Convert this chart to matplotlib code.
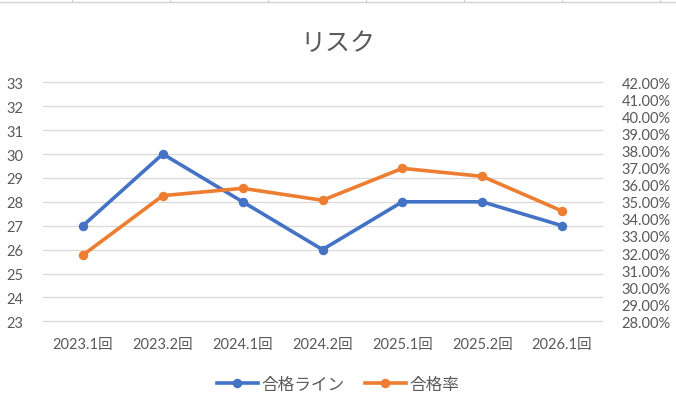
import matplotlib
matplotlib.use("Agg")
import matplotlib.pyplot as plt
from matplotlib.lines import Line2D
from matplotlib.ticker import FuncFormatter, MultipleLocator

categories = ["2023.1回", "2023.2回", "2024.1回", "2024.2回", "2025.1回", "2025.2回", "2026.1回"]
pass_line = [27, 30, 28, 26, 28, 28, 27]
pass_rate = [31.88, 35.36, 35.79, 35.09, 36.96, 36.49, 34.46]
series_names = ["合格ライン", "合格率"]
title = "リスク"

FAM = ["Lato", "Noto Sans CJK JP", "DejaVu Sans"]
plt.rcParams["font.family"] = FAM
GREY = "#595959"
BLUE = "#4472C4"
ORANGE = "#ED7D31"

fig = plt.figure(figsize=(6.76, 4.14), dpi=100)
ax = fig.add_axes([43/676, 1-322.3/414, (602-43)/676, (322.3-83.3)/414])
ax2 = ax.twinx()

x = list(range(len(categories)))
ax.plot(x, pass_line, color=BLUE, lw=2.6, marker="o", ms=5.8, zorder=3, solid_capstyle="round")
ax2.plot(x, pass_rate, color=ORANGE, lw=2.6, marker="o", ms=5.8, zorder=3, solid_capstyle="round")

ax.set_xlim(-0.5, len(categories) - 0.5)
ax.set_ylim(23, 33)
ax2.set_ylim(28, 42)
ax.yaxis.set_major_locator(MultipleLocator(1))
ax2.yaxis.set_major_locator(MultipleLocator(1))
ax2.yaxis.set_major_formatter(FuncFormatter(lambda v, p: f"{v:.2f}%"))
ax.set_xticks(x)
ax.set_xticklabels(categories)

ax.grid(axis="y", color="#D9D9D9", lw=0.9)
for gl in ax.get_ygridlines():
    gl.set_clip_on(False)
ax.set_axisbelow(True)
for a in (ax, ax2):
    for s in a.spines.values():
        s.set_visible(False)
    a.tick_params(length=0, colors=GREY, labelsize=10.5)
ax.tick_params(axis="y", pad=14)
ax2.tick_params(axis="y", pad=14)
ax.tick_params(axis="x", pad=11, labelsize=10.5)

fig.text(0.5, 1-43/414, title, ha="center", va="center", fontsize=18, color=GREY)

handles = [Line2D([], [], color=BLUE, lw=2.6, marker="o", ms=5.8),
           Line2D([], [], color=ORANGE, lw=2.6, marker="o", ms=5.8)]
fig.legend(handles, series_names, loc="center", bbox_to_anchor=(0.5, 1-385/414), ncol=2,
           frameon=False, fontsize=12, handlelength=2.5, handletextpad=0.2, columnspacing=1.2,
           labelcolor=GREY)

# spreadsheet cell borders visible at top
fig.add_artist(Line2D([0, 1], [1-3/414, 1-3/414], transform=fig.transFigure, color="#D4D4D4", lw=1))
for xv in [72, 170, 268, 366, 464, 562, 660]:
    fig.add_artist(Line2D([xv/676, xv/676], [1-3/414, 1], transform=fig.transFigure, color="#D4D4D4", lw=1))

fig.savefig("out.png", dpi=100, facecolor="white")
